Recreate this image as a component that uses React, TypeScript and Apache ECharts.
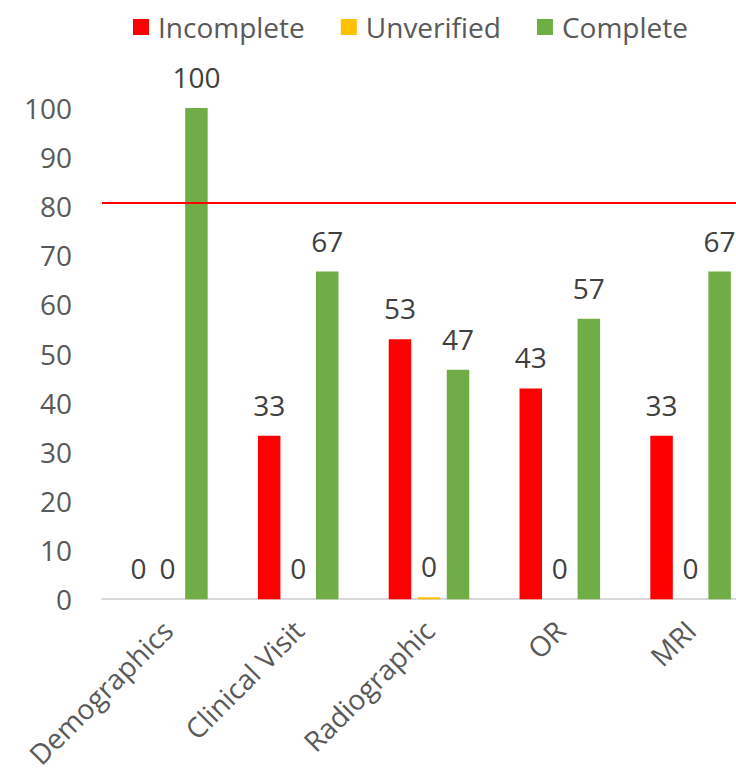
import React, { useEffect, useRef } from "react";
import * as echarts from "echarts";

const categories = ["Demographics", "Clinical Visit", "Radiographic", "OR", "MRI"];
const incomplete = [0, 33.3, 52.9, 42.9, 33.3];
const unverified = [0, 0, 0.4, 0, 0];
const complete = [100, 66.7, 46.7, 57.1, 66.7];
const targetLine = 80.7;

const FONT = "Open Sans";

export default function App() {
  const ref = useRef<HTMLDivElement>(null);
  useEffect(() => {
    if (!ref.current) return;
    const chart = echarts.init(ref.current, null, { renderer: "svg" });
    const label = {
      show: true,
      position: "top" as const,
      distance: 17,
      color: "#404040",
      fontSize: 28,
      fontFamily: FONT,
      formatter: (p: any) => String(Math.round(p.value)),
    };
    chart.setOption({
      animation: false,
      textStyle: { fontFamily: FONT },
      legend: {
        top: 8,
        left: 128,
        itemWidth: 16,
        itemHeight: 16,
        itemGap: 36,
        icon: "rect",
        textStyle: { fontSize: 28, color: "#595959", fontFamily: FONT, padding: [0, 0, 0, 4] },
        data: ["Incomplete", "Unverified", "Complete"],
      },
      grid: { left: 102, width: 654, top: 108, bottom: 169, containLabel: false },
      xAxis: {
        type: "category",
        data: categories,
        axisLine: { show: true, lineStyle: { color: "#d9d9d9", width: 2 } },
        axisTick: { show: false },
        axisLabel: {
          rotate: 45,
          interval: 0,
          margin: 26,
          fontSize: 28,
          color: "#595959",
          fontFamily: FONT,
        },
      },
      yAxis: {
        type: "value",
        min: 0,
        max: 100,
        interval: 10,
        axisLine: { show: false },
        axisTick: { show: false },
        splitLine: { show: false },
        axisLabel: { fontSize: 28, color: "#595959", fontFamily: FONT, margin: 30 },
      },
      series: [
        {
          name: "Incomplete",
          type: "bar",
          data: incomplete,
          barWidth: 22.5,
          barGap: "29%",
          itemStyle: { color: "#FF0000" },
          label,
          markLine: {
            silent: true,
            symbol: ["none", "none"],
            label: { show: false },
            lineStyle: { color: "#FF0000", width: 2, type: "solid" },
            data: [{ yAxis: targetLine }],
          },
        },
        {
          name: "Unverified",
          type: "bar",
          data: unverified,
          barWidth: 22.5,
          barGap: "29%",
          itemStyle: { color: "#FFC000" },
          label,
        },
        {
          name: "Complete",
          type: "bar",
          data: complete,
          barWidth: 22.5,
          barGap: "29%",
          itemStyle: { color: "#70AD47" },
          label,
        },
      ],
    });
    return () => chart.dispose();
  }, []);
  return (
    <div
      style={{
        position: "fixed",
        left: 0,
        top: 0,
        width: 736,
        height: 771,
        overflow: "hidden",
        background: "#fff",
      }}
    >
      <div ref={ref} style={{ width: 770, height: 771 }} />
    </div>
  );
}
